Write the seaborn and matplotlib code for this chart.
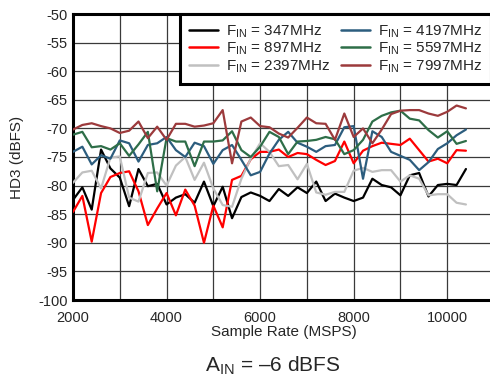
import numpy as np
import pandas as pd
import matplotlib
matplotlib.use("Agg")
import matplotlib.pyplot as plt
import seaborn as sns

# sample rate axis (MSPS)
rate = np.arange(2000, 10401, 200)

hd3_347 = [-82.5, -80.3, -84.2, -73.7, -77.0, -78.6, -83.6, -77.1, -80.1, -79.7,
           -83.3, -82.1, -81.5, -83.0, -79.3, -83.6, -80.2, -85.7, -82.0, -81.2,
           -81.8, -82.7, -80.6, -81.8, -80.3, -81.3, -79.3, -82.7, -81.4, -82.1,
           -82.7, -82.1, -78.8, -79.9, -80.3, -81.7, -78.2, -77.8, -81.9, -79.9,
           -79.7, -79.9, -77.1]
hd3_897 = [-84.6, -81.8, -89.8, -81.3, -78.5, -77.8, -77.5, -81.0, -86.9, -84.0,
           -81.3, -85.2, -80.7, -83.5, -90.0, -83.5, -87.3, -79.0, -78.3, -75.4,
           -74.1, -74.1, -73.7, -75.0, -74.3, -74.5, -75.5, -76.4, -75.7, -72.3,
           -76.1, -73.9, -73.1, -72.5, -72.7, -72.9, -71.8, -73.8, -75.8, -75.3,
           -76.1, -73.8, -73.9]
hd3_2397 = [-79.5, -77.7, -77.4, -80.5, -75.1, -74.9, -82.1, -82.8, -77.8, -77.7,
            -80.0, -76.5, -75.0, -79.0, -76.0, -80.5, -83.4, -83.7, -78.8, -75.3,
            -72.6, -74.1, -76.6, -76.4, -78.9, -76.2, -81.2, -81.6, -81.1, -81.1,
            -77.4, -76.9, -77.6, -77.3, -77.3, -79.3, -78.2, -78.8, -81.7, -81.5,
            -81.5, -83.0, -83.3]
hd3_4197 = [-74.1, -73.2, -76.3, -74.7, -75.3, -72.1, -72.6, -75.8, -72.9, -72.6,
            -71.5, -73.8, -75.0, -72.5, -73.1, -76.2, -73.8, -72.9, -75.5, -78.2,
            -77.6, -74.4, -72.0, -70.6, -72.5, -73.2, -74.1, -73.1, -72.9, -69.8,
            -69.6, -78.8, -70.5, -71.5, -74.1, -74.8, -75.5, -77.3, -75.9, -73.6,
            -72.6, -71.2, -70.2]
hd3_5597 = [-71.1, -70.6, -73.3, -73.1, -73.7, -72.6, -74.8, -72.8, -70.6, -81.0,
            -71.7, -72.3, -72.3, -76.6, -72.3, -72.3, -72.1, -70.5, -73.8, -75.0,
            -73.2, -70.6, -71.5, -74.5, -72.3, -72.2, -72.0, -71.5, -71.9, -74.5,
            -73.8, -72.0, -68.8, -67.8, -67.2, -66.9, -68.3, -68.6, -70.3, -71.6,
            -70.5, -72.7, -72.2]
hd3_7997 = [-70.2, -69.4, -69.1, -69.6, -70.0, -70.8, -70.4, -68.8, -71.7, -69.7,
            -72.0, -69.2, -69.2, -69.7, -69.5, -69.1, -66.8, -76.1, -68.8, -68.1,
            -69.6, -69.8, -70.9, -71.6, -69.9, -68.1, -69.1, -69.2, -72.0, -67.4,
            -71.5, -70.0, -72.6, -70.2, -67.5, -66.9, -66.8, -66.8, -67.4, -67.8,
            -67.1, -66.0, -66.5]

labels = [r"F$_{\rm IN}$ = 347MHz", r"F$_{\rm IN}$ = 897MHz", r"F$_{\rm IN}$ = 2397MHz",
          r"F$_{\rm IN}$ = 4197MHz", r"F$_{\rm IN}$ = 5597MHz", r"F$_{\rm IN}$ = 7997MHz"]
colors = ["#000000", "#ff0000", "#c0c0c0", "#2c5d7e", "#2e6e48", "#9c3a3c"]
series = [hd3_347, hd3_897, hd3_2397, hd3_4197, hd3_5597, hd3_7997]

df = pd.DataFrame({
    "rate": np.tile(rate, len(series)),
    "hd3": np.concatenate(series),
    "fin": np.repeat(labels, len(rate)),
})

sns.set_style("white")
plt.rcParams["font.family"] = ["Liberation Sans", "DejaVu Sans"]
plt.rcParams["mathtext.fontset"] = "custom"
plt.rcParams["mathtext.rm"] = "Liberation Sans"
plt.rcParams["axes.unicode_minus"] = False

fig = plt.figure(figsize=(4.9, 3.77), dpi=100)
ax = fig.add_axes([73 / 490, 77 / 377, 421 / 490, 286 / 377])

sns.lineplot(data=df, x="rate", y="hd3", hue="fin", hue_order=labels,
             palette=colors, linewidth=1.6, ax=ax, zorder=3)

ax.set_xlim(2000, 11000)
ax.set_ylim(-100, -50)
ax.set_xticks(np.arange(2000, 11001, 1000))
ax.set_xticklabels([str(v) if v % 2000 == 0 else "" for v in range(2000, 11001, 1000)])
ax.set_yticks(np.arange(-100, -49, 5))
ax.set_yticklabels([str(v) for v in range(-100, -49, 5)])
ax.tick_params(length=0, labelsize=10.5)
ax.tick_params(axis="x", pad=8)
ax.tick_params(axis="y", pad=4)
ax.grid(True, color="#3a3a3a", linewidth=0.9)
ax.set_axisbelow(True)

for side in ["left", "bottom", "top"]:
    ax.spines[side].set_linewidth(2.2)
    ax.spines[side].set_color("black")
ax.spines["right"].set_visible(False)

ax.set_xlabel("Sample Rate (MSPS)", fontsize=11, labelpad=0)
ax.set_ylabel("HD3 (dBFS)", fontsize=11, labelpad=10)

leg = ax.legend(loc="upper left", bbox_to_anchor=((180 - 73) / 421, 1.0), ncol=2,
                fontsize=11, frameon=True, fancybox=False, handlelength=1.9,
                handletextpad=0.5, columnspacing=0.7, labelspacing=0.05,
                borderpad=0.6, borderaxespad=0)
leg.get_frame().set_edgecolor("black")
leg.get_frame().set_linewidth(2.2)
leg.get_frame().set_alpha(1)
for line in leg.get_lines():
    line.set_linewidth(1.8)

fig.text(273 / 490, 1 - 366 / 377, r"A$_{\rm IN}$ = –6 dBFS", ha="center", va="center",
         fontsize=15)

fig.savefig("out.png", dpi=100)
